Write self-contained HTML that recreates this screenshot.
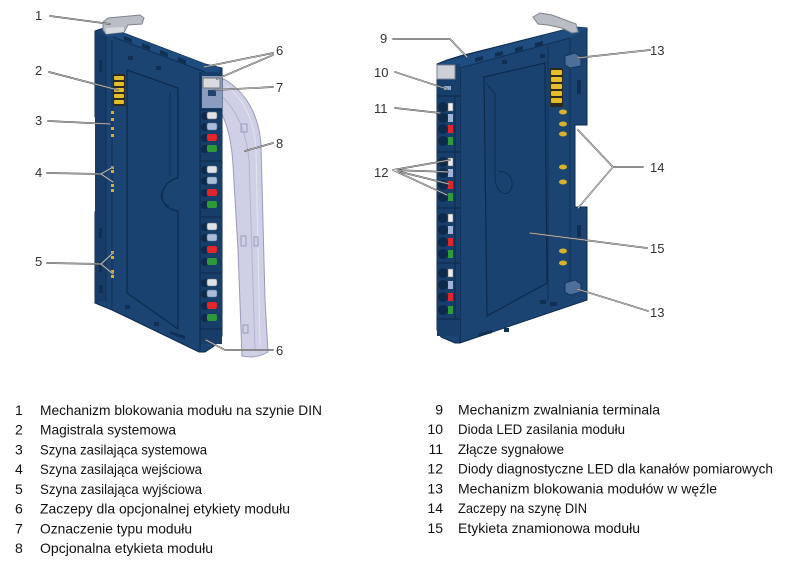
<!DOCTYPE html>
<html><head><meta charset="utf-8"><style>
html,body{margin:0;padding:0;background:#fff;}
svg{display:block;}
.lbl{font-family:"Liberation Sans",Arial,sans-serif;font-size:13px;fill:#333;}
.leg{font-family:"Liberation Sans","Noto Sans CJK SC",sans-serif;font-size:14px;fill:#111;}
</style></head><body>
<svg width="788" height="575" viewBox="0 0 788 575" xmlns="http://www.w3.org/2000/svg">
<rect width="788" height="575" fill="#fff"/>

<!-- ================= LEFT MODULE ================= -->
<g>
  <!-- transparent optional label (8) -->
  <path d="M207,80 L224,79 C246,92 259,115 261,145 L265,300 L268,352 Q256,359 242,356 L238,250 L233,165 C231,130 222,106 207,96 Z" fill="#cfd0e6" stroke="#9a9abb" stroke-width="1"/>
  <path d="M214,90 C234,104 246,128 249,160 L255,350" fill="none" stroke="#b3b3cf" stroke-width="1"/>
  <path d="M226,86 C246,100 255,125 256,150 L260,345" fill="none" stroke="#e4e4f1" stroke-width="1"/>
  <rect x="241" y="124" width="6" height="8" fill="none" stroke="#9a9abb"/>
  <rect x="241" y="236" width="5" height="10" fill="none" stroke="#9a9abb"/>
  <rect x="254" y="237" width="4" height="9" fill="none" stroke="#9a9abb"/>
  <rect x="243" y="325" width="5" height="8" fill="none" stroke="#9a9abb"/>

  <!-- main silhouette -->
  <polygon points="95,31 104,28 113,29 205,64 222,68 222,336 214,346 205,352 199,352 112,310 95,303 95,212 104,208 104,121 95,117" fill="#1b4473" stroke="#0d2a4c" stroke-width="1"/>
  <!-- top band -->
  <polygon points="104,28 113,29 205,64 222,68 218,72 205,72 113,37 106,36" fill="#1f4d7f"/>
  <line x1="113" y1="37" x2="205" y2="72" stroke="#0f2f55" stroke-width="1"/>
  <g fill="#0f2f55">
    <polygon points="124,36 132,39 132,43 124,40"/>
    <polygon points="142,43 150,46 150,50 142,47"/>
    <polygon points="160,50 168,53 168,57 160,54"/>
    <polygon points="178,57 186,60 186,64 178,61"/>
  </g>
  <!-- left strip (thickness) -->
  <polygon points="95,31 106,36 106,300 95,303" fill="#163c67"/>
  <line x1="106" y1="36" x2="106" y2="302" stroke="#0f2f55" stroke-width="1"/>
  <line x1="112" y1="40" x2="112" y2="310" stroke="#0f2f55" stroke-width="1"/>
  <rect x="99" y="60" width="3" height="12" fill="#0f2f55"/>
  <rect x="99" y="228" width="3" height="10" fill="#0f2f55"/>
  <rect x="99" y="262" width="3" height="10" fill="#0f2f55"/>
  <rect x="99" y="285" width="4" height="8" fill="#0f2f55"/>
  <!-- label recess -->
  <path d="M127,70 L178,88 L178,178 C160,181 154,208 178,211 L178,329 L127,293 Z" fill="#1a4270" stroke="#0d2a4c" stroke-width="1.2"/>
  <path d="M170,92 L170,176" stroke="#102f55" stroke-width="1"/>
  <path d="M164,189 C158,195 162,204 170,206" fill="none" stroke="#102f55" stroke-width="1"/>
  <rect x="128" y="56" width="5" height="4" fill="#0f2f55"/>
  <rect x="156" y="66" width="5" height="4" fill="#0f2f55"/>
  <rect x="125" y="305" width="5" height="4" fill="#0f2f55"/>
  <rect x="154" y="322" width="5" height="4" fill="#0f2f55"/>
  <polygon points="170,331 185,336 185,339 170,334" fill="#0f2f55"/>
  <!-- system bus contacts (2) -->
  <rect x="113" y="74" width="12" height="32" fill="#2a2a20"/>
  <g fill="#e3bd2a">
    <rect x="114" y="76" width="10" height="4" rx="1"/>
    <rect x="114" y="82" width="10" height="4" rx="1"/>
    <rect x="114" y="88" width="10" height="4" rx="1"/>
    <rect x="114" y="94" width="10" height="4" rx="1"/>
    <rect x="114" y="100" width="10" height="4" rx="1"/>
  </g>
  <!-- power rail contacts -->
  <g fill="#d6b02a">
    <rect x="111" y="111" width="3" height="3"/><rect x="111" y="118" width="3" height="3"/>
    <rect x="111" y="127" width="3" height="3"/><rect x="111" y="134" width="3" height="3"/>
    <rect x="111" y="166" width="3" height="3"/><rect x="111" y="170" width="3" height="3"/>
    <rect x="111" y="184" width="3" height="3"/><rect x="111" y="189" width="3" height="3"/>
    <rect x="111" y="251" width="3" height="3"/><rect x="111" y="256" width="3" height="3"/>
    <rect x="111" y="270" width="3" height="3"/><rect x="111" y="275" width="3" height="3"/>
  </g>
  <!-- terminal strip -->
  <rect x="200" y="72" width="22" height="272" fill="#173d69"/>
  <line x1="200" y1="72" x2="200" y2="350" stroke="#0d2a4c" stroke-width="1.2"/>
  <rect x="202" y="76" width="20" height="32" fill="#8a9dc0"/>
  <rect x="203" y="78" width="17" height="10" fill="#d9dbe0" stroke="#777"/>
  <rect x="208" y="90" width="8" height="6" fill="#21446f"/>
  <g stroke="#0d2a4c" stroke-width="1" fill="none">
    <line x1="200" y1="110" x2="222" y2="110"/>
    <line x1="200" y1="161" x2="222" y2="161"/>
    <line x1="200" y1="217" x2="222" y2="217"/>
    <line x1="200" y1="273" x2="222" y2="273"/>
    <line x1="200" y1="329" x2="222" y2="329"/>
  </g>
  <g id="lg">
  </g>
  <!-- connectors + LEDs left module -->
  <g>
    <!-- group 1 -->
    <circle cx="205" cy="116" r="4" fill="#0e2a4a"/><rect x="207" y="112" width="10" height="7" rx="2" fill="#dfe2e6" stroke="#6b7480" stroke-width=".6"/>
    <circle cx="205" cy="127" r="4" fill="#0e2a4a"/><rect x="207" y="123" width="10" height="7" rx="2" fill="#a9bddb" stroke="#5b6f8f" stroke-width=".6"/>
    <circle cx="205" cy="138" r="4" fill="#0e2a4a"/><rect x="207" y="134" width="10" height="7" rx="2" fill="#e0262a"/>
    <circle cx="205" cy="149" r="4" fill="#0e2a4a"/><rect x="207" y="145" width="10" height="7" rx="2" fill="#2f9a3a"/>
    <!-- group 2 -->
    <circle cx="205" cy="170" r="4" fill="#0e2a4a"/><rect x="207" y="166" width="10" height="7" rx="2" fill="#dfe2e6" stroke="#6b7480" stroke-width=".6"/>
    <circle cx="205" cy="181" r="4" fill="#0e2a4a"/><rect x="207" y="177" width="10" height="7" rx="2" fill="#a9bddb" stroke="#5b6f8f" stroke-width=".6"/>
    <circle cx="205" cy="193" r="4" fill="#0e2a4a"/><rect x="207" y="189" width="10" height="7" rx="2" fill="#e0262a"/>
    <circle cx="205" cy="205" r="4" fill="#0e2a4a"/><rect x="207" y="201" width="10" height="7" rx="2" fill="#2f9a3a"/>
    <!-- group 3 -->
    <circle cx="205" cy="227" r="4" fill="#0e2a4a"/><rect x="207" y="223" width="10" height="7" rx="2" fill="#dfe2e6" stroke="#6b7480" stroke-width=".6"/>
    <circle cx="205" cy="238" r="4" fill="#0e2a4a"/><rect x="207" y="234" width="10" height="7" rx="2" fill="#a9bddb" stroke="#5b6f8f" stroke-width=".6"/>
    <circle cx="205" cy="250" r="4" fill="#0e2a4a"/><rect x="207" y="246" width="10" height="7" rx="2" fill="#e0262a"/>
    <circle cx="205" cy="262" r="4" fill="#0e2a4a"/><rect x="207" y="258" width="10" height="7" rx="2" fill="#2f9a3a"/>
    <!-- group 4 -->
    <circle cx="205" cy="283" r="4" fill="#0e2a4a"/><rect x="207" y="279" width="10" height="7" rx="2" fill="#dfe2e6" stroke="#6b7480" stroke-width=".6"/>
    <circle cx="205" cy="294" r="4" fill="#0e2a4a"/><rect x="207" y="290" width="10" height="7" rx="2" fill="#a9bddb" stroke="#5b6f8f" stroke-width=".6"/>
    <circle cx="205" cy="306" r="4" fill="#0e2a4a"/><rect x="207" y="302" width="10" height="7" rx="2" fill="#e0262a"/>
    <circle cx="205" cy="318" r="4" fill="#0e2a4a"/><rect x="207" y="314" width="10" height="7" rx="2" fill="#2f9a3a"/>
  </g>
  <!-- latch (1) -->
  <polygon points="103,22 108,18 140,15 144,18 142,24 128,25 124,32 106,34 103,30" fill="#b9bec6" stroke="#7d838c" stroke-width="1"/>
  <polygon points="106,28 124,27 124,32 106,34" fill="#d7dbe0"/>
</g>

<!-- ================= RIGHT MODULE ================= -->
<g>
  <!-- silhouette -->
  <polygon points="437,64 447,60 460,56 575,27 587,28 587,125 575,125 575,207 587,207 587,300 460,343 455,343 441,337 437,330" fill="#1b4473" stroke="#0d2a4c" stroke-width="1"/>
  <!-- top band -->
  <polygon points="437,64 575,27 587,28 570,38 460,68 450,68" fill="#1f4d7f"/>
  <line x1="460" y1="68" x2="570" y2="38" stroke="#0f2f55"/>
  <g fill="#0f2f55">
    <polygon points="475,58 483,56 483,60 475,62"/>
    <polygon points="495,53 503,51 503,55 495,57"/>
    <polygon points="515,48 523,46 523,50 515,52"/>
    <polygon points="535,43 543,41 543,45 535,47"/>
  </g>
  <!-- side face separator -->
  <line x1="460" y1="68" x2="460" y2="343" stroke="#0d2a4c" stroke-width="1.2"/>
  <line x1="548" y1="46" x2="548" y2="300" stroke="#0f2f55"/>
  <line x1="570" y1="38" x2="570" y2="296" stroke="#0f2f55"/>
  <!-- recess (15) -->
  <polygon points="484,77 545,63 547,283 487,316" fill="#1a4270" stroke="#0d2a4c" stroke-width="1.2"/>
  <path d="M487,84 L495,94 L495,178 C496,196 510,198 512,186 C513,176 505,170 498,172" fill="none" stroke="#102f55" stroke-width="1.1"/>
  <rect x="502" y="60" width="5" height="4" fill="#0f2f55"/>
  <rect x="540" y="54" width="5" height="4" fill="#0f2f55"/>
  <rect x="540" y="300" width="6" height="4" fill="#0f2f55"/>
  <rect x="550" y="302" width="7" height="4" fill="#0f2f55"/>
  <rect x="504" y="328" width="5" height="4" fill="#0f2f55"/>
  <polygon points="478,334 492,330 492,333 478,337" fill="#0f2f55"/>
  <!-- right strip contacts -->
  <rect x="550" y="68" width="13" height="39" fill="#2a2a20"/>
  <g fill="#e3bd2a">
    <rect x="551" y="70" width="11" height="5" rx="1"/>
    <rect x="551" y="77" width="11" height="5" rx="1"/>
    <rect x="551" y="84" width="11" height="5" rx="1"/>
    <rect x="551" y="91" width="11" height="5" rx="1"/>
    <rect x="551" y="98" width="11" height="5" rx="1"/>
  </g>
  <g fill="#d8b22c">
    <ellipse cx="563" cy="112" rx="4" ry="2.5"/>
    <ellipse cx="563" cy="124" rx="4" ry="2.5"/>
    <ellipse cx="563" cy="134" rx="4" ry="2.5"/>
    <ellipse cx="563" cy="167" rx="4" ry="2.5"/>
    <ellipse cx="563" cy="182" rx="4" ry="2.5"/>
    <ellipse cx="563" cy="251" rx="4" ry="2.5"/>
    <ellipse cx="563" cy="263" rx="4" ry="2.5"/>
  </g>
  <rect x="577" y="80" width="4" height="14" fill="#0f2f55"/>
  <rect x="577" y="225" width="4" height="12" fill="#0f2f55"/>
  <!-- locking blocks (13) -->
  <polygon points="565,56 575,53 581,57 581,66 570,68 565,65" fill="#4d6f9a" stroke="#123660"/>
  <polygon points="565,283 575,280 581,284 581,292 570,295 565,292" fill="#4d6f9a" stroke="#123660"/>
  <!-- latch -->
  <polygon points="533,17 540,13 552,15 576,24 578,32 572,33 562,28 548,25 538,24" fill="#b9bec6" stroke="#7d838c"/>
  <!-- terminal block -->
  <rect x="437" y="64" width="23" height="272" fill="#183f6b"/>
  <rect x="437" y="65" width="18" height="14" fill="#cdd1d7" stroke="#7a8290"/>
  <rect x="444" y="86" width="7" height="4" fill="#8fa6c8"/>
  <g stroke="#0d2a4c" stroke-width="1">
    <line x1="437" y1="96" x2="460" y2="96"/>
    <line x1="437" y1="152" x2="460" y2="152"/>
    <line x1="437" y1="208" x2="460" y2="208"/>
    <line x1="437" y1="263" x2="460" y2="263"/>
    <line x1="437" y1="319" x2="460" y2="319"/>
    <line x1="455" y1="96" x2="455" y2="319"/>
  </g>
  <g>
    <circle cx="443" cy="107" r="5" fill="#0e2a4a"/><rect x="448" y="103" width="5" height="8" fill="#eceef0" stroke="#666" stroke-width=".5"/>
    <circle cx="443" cy="118" r="5" fill="#0e2a4a"/><rect x="448" y="114" width="5" height="8" fill="#9fb4d8"/>
    <circle cx="443" cy="129" r="5" fill="#0e2a4a"/><rect x="448" y="125" width="5" height="8" fill="#e0262a"/>
    <circle cx="443" cy="141" r="5" fill="#0e2a4a"/><rect x="448" y="137" width="5" height="8" fill="#2f9a3a"/>

    <circle cx="443" cy="162" r="5" fill="#0e2a4a"/><rect x="448" y="158" width="5" height="8" fill="#eceef0" stroke="#666" stroke-width=".5"/>
    <circle cx="443" cy="173" r="5" fill="#0e2a4a"/><rect x="448" y="169" width="5" height="8" fill="#9fb4d8"/>
    <circle cx="443" cy="185" r="5" fill="#0e2a4a"/><rect x="448" y="181" width="5" height="8" fill="#e0262a"/>
    <circle cx="443" cy="197" r="5" fill="#0e2a4a"/><rect x="448" y="193" width="5" height="8" fill="#2f9a3a"/>

    <circle cx="443" cy="218" r="5" fill="#0e2a4a"/><rect x="448" y="214" width="5" height="8" fill="#eceef0" stroke="#666" stroke-width=".5"/>
    <circle cx="443" cy="230" r="5" fill="#0e2a4a"/><rect x="448" y="226" width="5" height="8" fill="#9fb4d8"/>
    <circle cx="443" cy="242" r="5" fill="#0e2a4a"/><rect x="448" y="238" width="5" height="8" fill="#e0262a"/>
    <circle cx="443" cy="254" r="5" fill="#0e2a4a"/><rect x="448" y="250" width="5" height="8" fill="#2f9a3a"/>

    <circle cx="443" cy="273" r="5" fill="#0e2a4a"/><rect x="448" y="269" width="5" height="8" fill="#eceef0" stroke="#666" stroke-width=".5"/>
    <circle cx="443" cy="285" r="5" fill="#0e2a4a"/><rect x="448" y="281" width="5" height="8" fill="#9fb4d8"/>
    <circle cx="443" cy="297" r="5" fill="#0e2a4a"/><rect x="448" y="293" width="5" height="8" fill="#e0262a"/>
    <circle cx="443" cy="310" r="5" fill="#0e2a4a"/><rect x="448" y="306" width="5" height="8" fill="#2f9a3a"/>
  </g>
</g>

<!-- ================= CALLOUT LINES ================= -->
<g fill="none" stroke-linecap="round" stroke-linejoin="round">
  <g stroke="#555" stroke-width="1.7">
    <path d="M50,16 L110,24"/>
    <path d="M49,72 L118,90"/>
    <path d="M48,121 L110,124"/>
    <path d="M47,173 L101,174 L113,167 M101,174 L113,182"/>
    <path d="M47,263 L101,264 L113,253 M101,264 L113,274"/>
    <path d="M273,53 L204,67 M273,55 L217,79"/>
    <path d="M273,87 L215,90"/>
    <path d="M273,143 L245,151"/>
    <path d="M273,350 L225,350 L206,340"/>
    <path d="M393,39 L450,39 L467,57"/>
    <path d="M395,72 L447,89"/>
    <path d="M395,108 L440,113"/>
    <path d="M393,170 L450,160 M393,170 L448,172 M393,170 L449,184 M393,170 L447,195"/>
    <path d="M650,50 L577,58"/>
    <path d="M643,167 L613,167 L578,130 M613,167 L578,208"/>
    <path d="M647,248 L530,233"/>
    <path d="M648,311 L577,289"/>
  </g>
  <g stroke="#e8e8e8" stroke-width="0.6">
    <path d="M50,16 L110,24"/>
    <path d="M49,72 L118,90"/>
    <path d="M48,121 L110,124"/>
    <path d="M47,173 L101,174 L113,167 M101,174 L113,182"/>
    <path d="M47,263 L101,264 L113,253 M101,264 L113,274"/>
    <path d="M273,53 L204,67 M273,55 L217,79"/>
    <path d="M273,87 L215,90"/>
    <path d="M273,143 L245,151"/>
    <path d="M273,350 L225,350 L206,340"/>
    <path d="M393,39 L450,39 L467,57"/>
    <path d="M395,72 L447,89"/>
    <path d="M395,108 L440,113"/>
    <path d="M393,170 L450,160 M393,170 L448,172 M393,170 L449,184 M393,170 L447,195"/>
    <path d="M650,50 L577,58"/>
    <path d="M643,167 L613,167 L578,130 M613,167 L578,208"/>
    <path d="M647,248 L530,233"/>
    <path d="M648,311 L577,289"/>
  </g>
</g>

<!-- callout numbers -->
<g class="lbl">
  <text x="35" y="20">1</text>
  <text x="35" y="75">2</text>
  <text x="35" y="125">3</text>
  <text x="35" y="177">4</text>
  <text x="35" y="266">5</text>
  <text x="276" y="55">6</text>
  <text x="276" y="92">7</text>
  <text x="276" y="148">8</text>
  <text x="276" y="355">6</text>
  <text x="380" y="43">9</text>
  <text x="374" y="77">10</text>
  <text x="374" y="113">11</text>
  <text x="374" y="177">12</text>
  <text x="650" y="55">13</text>
  <text x="650" y="172">14</text>
  <text x="650" y="253">15</text>
  <text x="650" y="317">13</text>
</g>

<!-- legend -->
<g class="leg">
  <text x="15" y="415">1</text>
  <text x="40" y="415" textLength="282" lengthAdjust="spacingAndGlyphs">Mechanizm blokowania modułu na szynie DIN</text>
  <text x="15" y="434.7">2</text>
  <text x="40" y="434.7" textLength="136" lengthAdjust="spacingAndGlyphs">Magistrala systemowa</text>
  <text x="15" y="454.5">3</text>
  <text x="40" y="454.5" textLength="167" lengthAdjust="spacingAndGlyphs">Szyna zasilająca systemowa</text>
  <text x="15" y="474.2">4</text>
  <text x="40" y="474.2" textLength="162" lengthAdjust="spacingAndGlyphs">Szyna zasilająca wejściowa</text>
  <text x="15" y="494">5</text>
  <text x="40" y="494" textLength="162" lengthAdjust="spacingAndGlyphs">Szyna zasilająca wyjściowa</text>
  <text x="15" y="513.7">6</text>
  <text x="40" y="513.7" textLength="250" lengthAdjust="spacingAndGlyphs">Zaczepy dla opcjonalnej etykiety modułu</text>
  <text x="15" y="533.5">7</text>
  <text x="40" y="533.5" textLength="152" lengthAdjust="spacingAndGlyphs">Oznaczenie typu modułu</text>
  <text x="15" y="553.2">8</text>
  <text x="40" y="553.2" textLength="173" lengthAdjust="spacingAndGlyphs">Opcjonalna etykieta modułu</text>
</g>
<g class="leg">
  <text x="443" y="414.5" text-anchor="end">9</text>
  <text x="458" y="414.5" textLength="202" lengthAdjust="spacingAndGlyphs">Mechanizm zwalniania terminala</text>
  <text x="443" y="434.2" text-anchor="end">10</text>
  <text x="458" y="434.2" textLength="167" lengthAdjust="spacingAndGlyphs">Dioda LED zasilania modułu</text>
  <text x="443" y="454" text-anchor="end">11</text>
  <text x="458" y="454" textLength="106" lengthAdjust="spacingAndGlyphs">Złącze sygnałowe</text>
  <text x="443" y="473.7" text-anchor="end">12</text>
  <text x="458" y="473.7" textLength="315" lengthAdjust="spacingAndGlyphs">Diody diagnostyczne LED dla kanałów pomiarowych</text>
  <text x="443" y="493.5" text-anchor="end">13</text>
  <text x="458" y="493.5" textLength="259" lengthAdjust="spacingAndGlyphs">Mechanizm blokowania modułów w węźle</text>
  <text x="443" y="513.2" text-anchor="end">14</text>
  <text x="458" y="513.2" textLength="129" lengthAdjust="spacingAndGlyphs">Zaczepy na szynę DIN</text>
  <text x="443" y="533" text-anchor="end">15</text>
  <text x="458" y="533" textLength="182" lengthAdjust="spacingAndGlyphs">Etykieta znamionowa modułu</text>
</g>
</svg>
</body></html>
